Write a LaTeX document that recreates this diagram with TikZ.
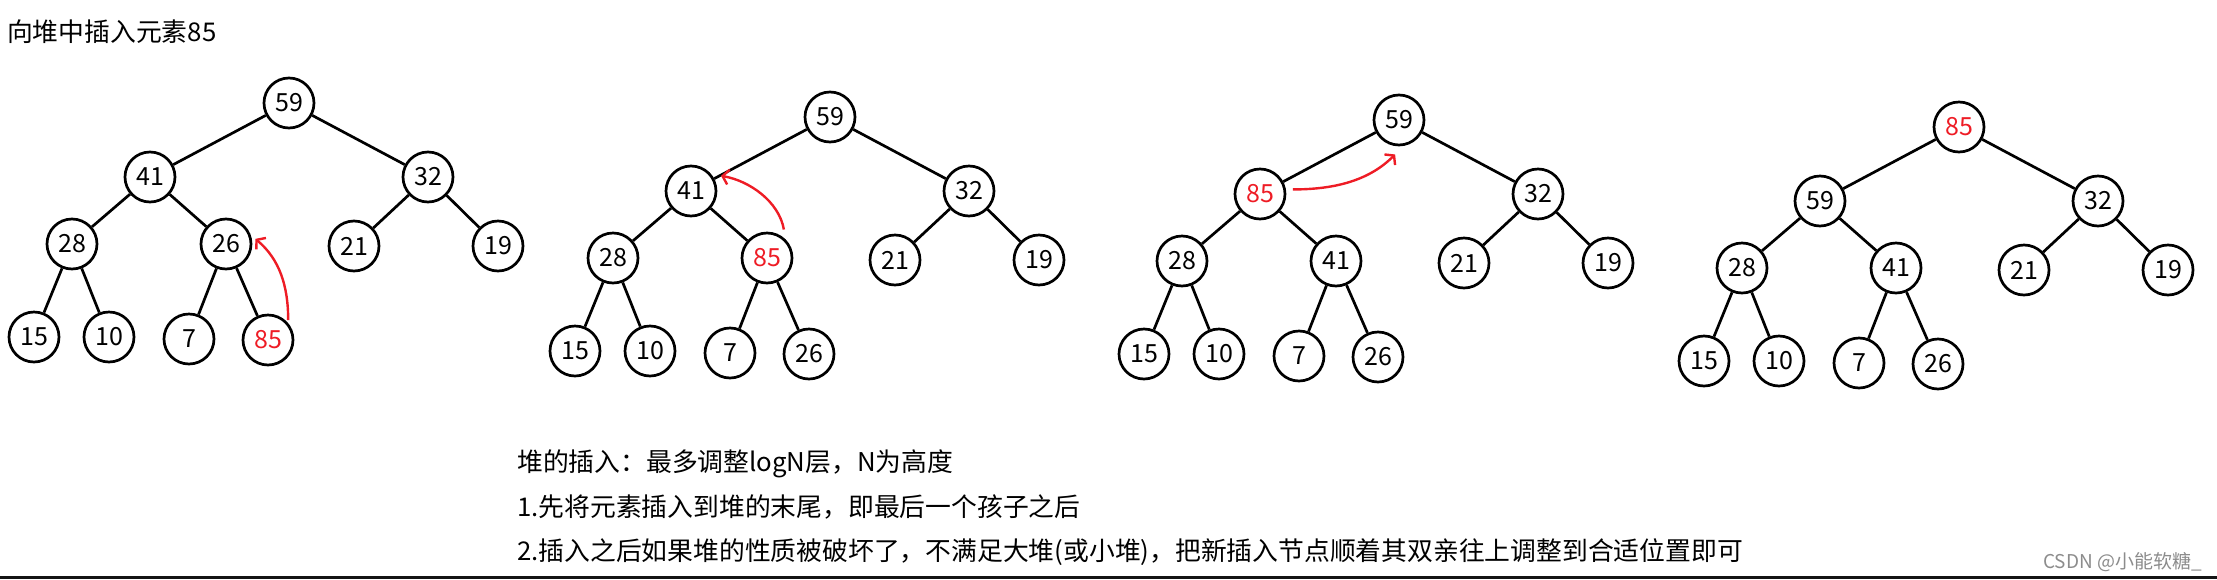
\documentclass[tikz,border=0pt]{standalone}
\usepackage{fontspec}
\setmainfont{Noto Sans CJK SC}
\usetikzlibrary{arrows.meta,positioning}
\definecolor{hotred}{HTML}{EE1C25}
\definecolor{wmgray}{HTML}{8C8C8C}
\tikzset{
  elem/.style={circle,draw,line width=2.7pt,minimum size=50pt,inner sep=0pt,
    font=\fontsize{25}{25}\selectfont},
  link/.style={draw,line width=2.7pt},
  siftup/.style={-{Straight Barb[length=6pt,width=15pt]},draw=hotred,line width=2.4pt},
  note/.style={anchor=base west,inner sep=0pt,font=\fontsize{25.8}{30}\selectfont},
  watermark/.style={anchor=base east,inner sep=0pt,text=wmgray,
    font=\fontsize{19}{22}\selectfont}
}
\newcommand{\hot}[1]{\textcolor{hotred}{#1}}
% one heap: prefix, root position, root, left child, its right child, last leaf
\newcommand{\heaptree}[6]{%
  \node[elem] (#1-root) at (#2) {#3};
  \node[elem,below left=74pt and 139pt of #1-root] (#1-l) {#4};
  \node[elem,below right=74pt and 139pt of #1-root] (#1-r) {32};
  \node[elem,below left=67pt and 78pt of #1-l] (#1-ll) {28};
  \node[elem,below right=67pt and 76pt of #1-l] (#1-lr) {#5};
  \node[elem,below left=69pt and 74pt of #1-r] (#1-rl) {21};
  \node[elem,below right=69pt and 70pt of #1-r] (#1-rr) {19};
  \node[elem,below left=93pt and 38pt of #1-ll] (#1-a) {15};
  \node[elem,below right=93pt and 37pt of #1-ll] (#1-b) {10};
  \node[elem,below left=95pt and 37pt of #1-lr] (#1-c) {7};
  \node[elem,below right=96pt and 42pt of #1-lr] (#1-d) {#6};
  \draw[link] (#1-root) -- (#1-l) (#1-root) -- (#1-r)
    (#1-l) -- (#1-ll) (#1-l) -- (#1-lr) (#1-r) -- (#1-rl) (#1-r) -- (#1-rr)
    (#1-ll) -- (#1-a) (#1-ll) -- (#1-b) (#1-lr) -- (#1-c) (#1-lr) -- (#1-d);
}

\begin{document}
\begin{tikzpicture}[x=1pt,y=1pt,on grid]
  \useasboundingbox (0,0) rectangle (2217,-579);
  \node[note] (title) at (7,-41) {向堆中插入元素85};

  \heaptree{t1}{289,-103}{59}{41}{26}{\hot{85}}
  \heaptree{t2}{830,-117}{59}{41}{\hot{85}}{26}
  \heaptree{t3}{1399,-120}{59}{\hot{85}}{41}{26}
  \heaptree{t4}{1959,-127}{\hot{85}}{59}{41}{26}

  \draw[siftup,shorten <=3pt,shorten >=6pt] (t1-d.40) to[out=90,in=-40] (t1-lr.20);
  \draw[siftup,shorten <=10pt,shorten >=10pt] (t2-lr.45) to[out=100,in=-10] (t2-l.40);
  \draw[siftup,shorten <=7pt,shorten >=12pt] (t3-l.10) to[out=0,in=-135] (t3-root.-80);

  \node[note] (rule) at (517,-471) {堆的插入：最多调整logN层，N为高度};
  \node[note] (step1) at (517,-516) {1.先将元素插入到堆的末尾，即最后一个孩子之后};
  \node[note] (step2) at (517,-560) {2.插入之后如果堆的性质被破坏了，不满足大堆(或小堆)，把新插入节点顺着其双亲往上调整到合适位置即可};
  \node[watermark] (csdn) at (2202,-568) {CSDN @小能软糖\_};
  \fill[black!92] (0,-575.5) rectangle (2217,-579);
\end{tikzpicture}
\end{document}
